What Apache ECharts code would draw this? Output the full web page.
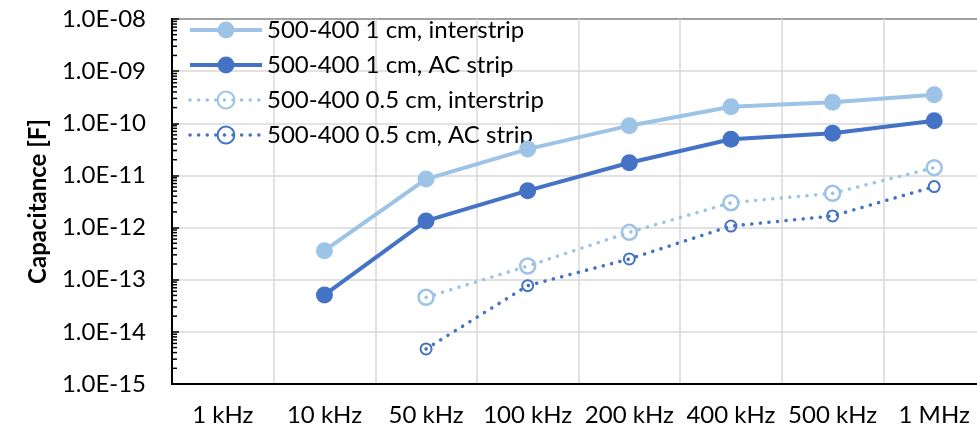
<!DOCTYPE html>
<html>
<head>
<meta charset="utf-8">
<script src="https://cdn.jsdelivr.net/npm/echarts@6/dist/echarts.min.js"></script>
<style>
  html, body { margin: 0; padding: 0; background: #fff; }
  #chart { width: 977px; height: 429px; }
</style>
</head>
<body>
<div id="chart"></div>
<script>
// Frequency points
const frequencies = ['1 kHz', '10 kHz', '50 kHz', '100 kHz', '200 kHz', '400 kHz', '500 kHz', '1 MHz'];

// Measured capacitance [F]; null = not measured
const interstrip1cm = [null, 3.6e-13, 8.5e-12, 3.2e-11, 9.0e-11, 2.08e-10, 2.52e-10, 3.53e-10];
const acStrip1cm    = [null, 5.1e-14, 1.34e-12, 5.1e-12, 1.75e-11, 4.93e-11, 6.43e-11, 1.12e-10];
const interstrip05  = [null, null, 4.6e-14, 1.83e-13, 8.1e-13, 3.0e-12, 4.54e-12, 1.41e-11];
const acStrip05     = [null, null, 4.7e-15, 7.7e-14, 2.5e-13, 1.07e-12, 1.67e-12, 6.1e-12];

const seriesNames = [
  '500-400 1 cm, interstrip',
  '500-400 1 cm, AC strip',
  '500-400 0.5 cm, interstrip',
  '500-400 0.5 cm, AC strip'
];

// Y axis tick labels, one per decade from 1e-15 up to 1e-8
const yExponents  = [-15, -14, -13, -12, -11, -10, -9, -8];
const yTickLabels = ['1.0E-15', '1.0E-14', '1.0E-13', '1.0E-12', '1.0E-11', '1.0E-10', '1.0E-09', '1.0E-08'];

// Minor tick positions on the log axis: 2..9 × 10^n inside each decade
const minorTickValues = [];
for (let e = -15; e < -8; e++) {
  for (let k = 2; k <= 9; k++) minorTickValues.push([0, k * Math.pow(10, e)]);
}

const lightBlue = '#9DC3E6';
const darkBlue = '#4472C4';
const font = 'Lato, "Open Sans", sans-serif';
const fontSize = 24;
const dots = [0.1, 8.5];

const chart = echarts.init(document.getElementById('chart'), null, { renderer: 'canvas' });

chart.setOption({
  animation: false,
  backgroundColor: '#fff',
  textStyle: { fontFamily: font },
  // plot area runs slightly past the right edge of the canvas
  grid: {
    left: 172, top: 19, width: 813, height: 365,
    outerBoundsMode: 'none',
    containLabel: false,
    show: true, borderColor: '#000', borderWidth: 2, backgroundColor: 'transparent'
  },
  legend: {
    data: seriesNames,
    orient: 'vertical',
    left: 188, top: 18,
    padding: 0,
    itemWidth: 72, itemHeight: 21, itemGap: 11,
    lineStyle: { width: 'inherit' },
    textStyle: { fontFamily: font, fontSize: fontSize, color: '#000' }
  },
  xAxis: {
    type: 'category',
    data: frequencies,
    boundaryGap: true,
    axisLine: { lineStyle: { color: '#000', width: 2 } },
    axisTick: { show: false, interval: 0 },
    axisLabel: { color: '#000', fontSize: fontSize, margin: 19, fontFamily: font, interval: 0 },
    splitLine: { show: true, interval: 0, lineStyle: { color: '#D9D9D9', width: 1.5 } }
  },
  yAxis: {
    type: 'log',
    logBase: 10,
    min: 1e-15, max: 1e-8,
    splitNumber: 7,
    name: 'Capacitance [F]',
    nameLocation: 'middle',
    nameRotate: 90,
    nameGap: 122,
    nameTextStyle: { fontFamily: font, fontSize: fontSize, fontWeight: 'bold', color: '#000' },
    axisLine: { show: true, lineStyle: { color: '#000', width: 2 } },
    axisTick: { show: true, inside: true, length: 7, lineStyle: { color: '#000', width: 1.5 } },
    axisLabel: {
      color: '#000', fontSize: fontSize, margin: 26, fontFamily: font,
      formatter: v => {
        const i = yExponents.indexOf(Math.round(Math.log10(v)));
        return i >= 0 ? yTickLabels[i] : '';
      }
    },
    splitLine: { show: true, lineStyle: { color: '#D9D9D9', width: 1.5 } }
  },
  series: [
    {
      name: seriesNames[0], type: 'line', data: interstrip1cm, color: lightBlue,
      symbol: 'circle', symbolSize: 17,
      lineStyle: { color: lightBlue, width: 4 },
      itemStyle: { color: lightBlue }, z: 4
    },
    {
      name: seriesNames[1], type: 'line', data: acStrip1cm, color: darkBlue,
      symbol: 'circle', symbolSize: 17,
      lineStyle: { color: darkBlue, width: 4 },
      itemStyle: { color: darkBlue }, z: 4
    },
    {
      name: seriesNames[2], type: 'line', data: interstrip05, color: lightBlue,
      symbol: 'circle', symbolSize: 15,
      lineStyle: { color: lightBlue, width: 3.5, type: dots, cap: 'round' },
      itemStyle: { color: 'rgba(255,255,255,0)', borderColor: lightBlue, borderWidth: 2.5 }, z: 3
    },
    {
      name: seriesNames[3], type: 'line', data: acStrip05, color: darkBlue,
      symbol: 'circle', symbolSize: 11,
      lineStyle: { color: darkBlue, width: 3.5, type: dots, cap: 'round' },
      itemStyle: { color: 'rgba(255,255,255,0)', borderColor: darkBlue, borderWidth: 2 }, z: 3
    },
    {
      // log-spaced minor ticks along the inside of the value axis
      type: 'custom',
      silent: true,
      data: minorTickValues,
      encode: { x: 0, y: 1 },
      z: 5,
      renderItem: (params, api) => {
        const y = api.coord([0, api.value(1)])[1];
        const x0 = params.coordSys.x;
        return {
          type: 'line',
          shape: { x1: x0, y1: y, x2: x0 + 5, y2: y },
          style: { stroke: '#000', lineWidth: 1.5 }
        };
      }
    }
  ]
});
</script>
</body>
</html>
